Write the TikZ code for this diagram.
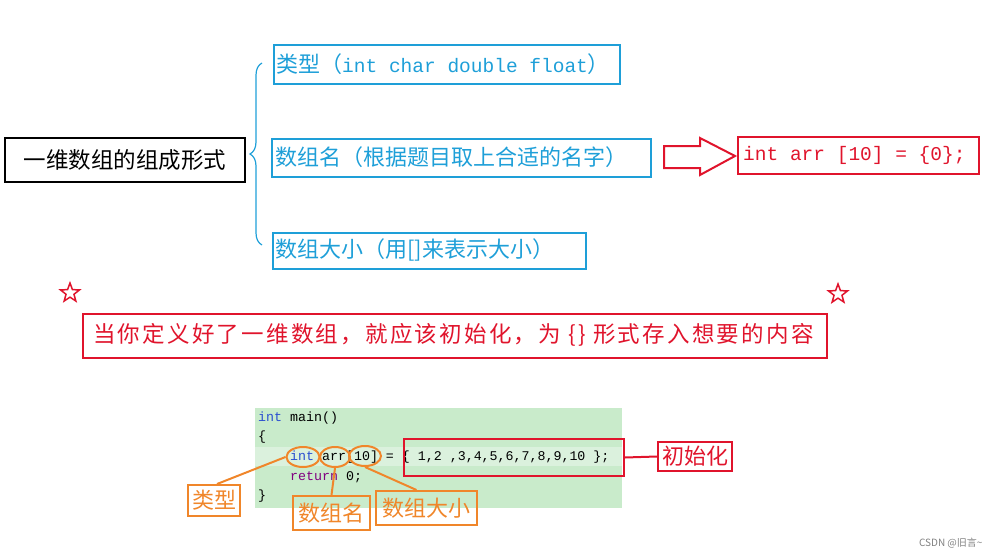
\documentclass[tikz,border=0pt]{standalone}
\usepackage{fontspec}
\setmainfont{Noto Sans CJK SC}
\newfontfamily\cjk{Noto Sans CJK SC}
\newfontfamily\cjkwide[LetterSpace=10]{Noto Sans CJK SC}
\newfontfamily\codef{Liberation Mono}
\usetikzlibrary{shapes.geometric,shapes.arrows,decorations.pathreplacing}
\definecolor{bl}{HTML}{1E9FD8}
\definecolor{rd}{HTML}{E0142C}
\definecolor{og}{HTML}{F0862A}
\definecolor{gr}{HTML}{C9EBCB}
\definecolor{kw}{HTML}{2B4FD0}
\begin{document}
\begin{tikzpicture}[x=1pt,y=-1pt,
  bbox/.style={draw=bl,line width=2pt,inner sep=0pt,anchor=north west},
  btxt/.style={text=bl,anchor=west,inner sep=0pt,font=\cjk\fontsize{22}{22}\selectfont},
  rbox/.style={draw=rd,line width=2pt,text=rd,inner sep=0pt,anchor=north west},
  obox/.style={draw=og,line width=2pt,text=og,inner sep=0pt,anchor=north west,font=\cjk\fontsize{22}{22}\selectfont},
  oel/.style={draw=og,line width=2pt,ellipse,inner sep=0pt},
  rstar/.style={star,star points=5,star point ratio=2.4,draw=rd,line width=1.5pt,minimum size=20pt,inner sep=0pt},
  code/.style={anchor=west,inner sep=0pt,font=\codef\fontsize{13.3}{13.3}\selectfont}]
\useasboundingbox (0,0) rectangle (1000,559);
\node[draw=black,line width=2pt,anchor=north west,minimum width=240pt,minimum height=44pt,inner sep=0pt,font=\cjk\fontsize{22.5}{22.5}\selectfont] (main) at (4,137) {一维数组的组成形式};
\node[bbox,minimum width=346pt,minimum height=39pt] (t1) at (273,44) {};
\node[btxt] (t1t) at (276,64) {类型（{\codef\fontsize{19.5}{19.5}\selectfont int char double float}）};
\node[bbox,minimum width=379pt,minimum height=38pt] (t2) at (271,138) {};
\node[btxt] (t2t) at (275,157) {数组名（根据题目取上合适的名字）};
\node[bbox,minimum width=313pt,minimum height=36pt] (t3) at (272,232) {};
\node[btxt] (t3t) at (275,250) {数组大小（用[]来表示大小）};
\draw[bl,line width=1.2pt,decorate,decoration={brace,amplitude=12pt}] (262,245) -- (262,63);
\draw[rd,line width=2pt] (664,146) -- (700,146) -- (700,138) -- (735,156) -- (700,175) -- (700,168) -- (664,168) -- cycle;
\node[rbox,minimum width=241pt,minimum height=37pt] (init0) at (737,136) {};
\node[anchor=west,inner sep=0pt,text=rd,font=\codef\fontsize{19.5}{19.5}\selectfont] (init0t) at (743,155) {int arr [10] = \{0\};};
\node[rstar] (s1) at (70,293) {};
\node[rstar] (s2) at (838,294) {};
\node[rbox,minimum width=744pt,minimum height=44pt] (note) at (82,313) {};
\node[anchor=west,inner sep=0pt,text=rd,font=\cjkwide\fontsize{22.5}{22.5}\selectfont] (notet) at (93,335) {当你定义好了一维数组，就应该初始化，为 \{\} 形式存入想要的内容};
\fill[gr] (255,408) rectangle (622,508);
\fill[white,opacity=0.35] (255,447) rectangle (622,466);
\node[code] (l1) at (258,418) {\textcolor{kw}{int} main()};
\node[code] (l2) at (258,437) {\{};
\node[code] (l3) at (290,457) {\textcolor{kw}{int} arr[10] = \{ 1,2 ,3,4,5,6,7,8,9,10 \};};
\node[code] (l4) at (290,477) {\textcolor{violet}{return} 0;};
\node[code] (l5) at (258,496) {\}};
\node[oel,minimum width=33pt,minimum height=20pt] (e1) at (303,457) {};
\node[oel,minimum width=30pt,minimum height=20pt] (e2) at (335,457) {};
\node[oel,minimum width=32pt,minimum height=20pt] (e3) at (365,456) {};
\node[rbox,minimum width=220pt,minimum height=37pt] (arrb) at (403,438) {};
\node[rbox,minimum width=74pt,minimum height=29pt,font=\cjk\fontsize{22}{22}\selectfont] (chu) at (657,441) {初始化};
\draw[rd,line width=2pt] (arrb.east) -- (chu.west);
\node[obox,minimum width=52pt,minimum height=31pt] (lx) at (187,484) {类型};
\node[obox,minimum width=77pt,minimum height=34pt] (lm) at (292,495) {数组名};
\node[obox,minimum width=101pt,minimum height=34pt] (ld) at (375,490) {数组大小};
\draw[og,line width=2pt] (lx.north) ++(3,0) -- (e1.west);
\draw[og,line width=2pt] (lm.north) -- (e2.south);
\draw[og,line width=2pt] (ld.north) ++(-10,0) -- (e3.south);
\node[anchor=east,text=gray,font=\cjk\fontsize{10}{10}\selectfont] (wm) at (986,543) {CSDN @旧言\textasciitilde};
\end{tikzpicture}
\end{document}
